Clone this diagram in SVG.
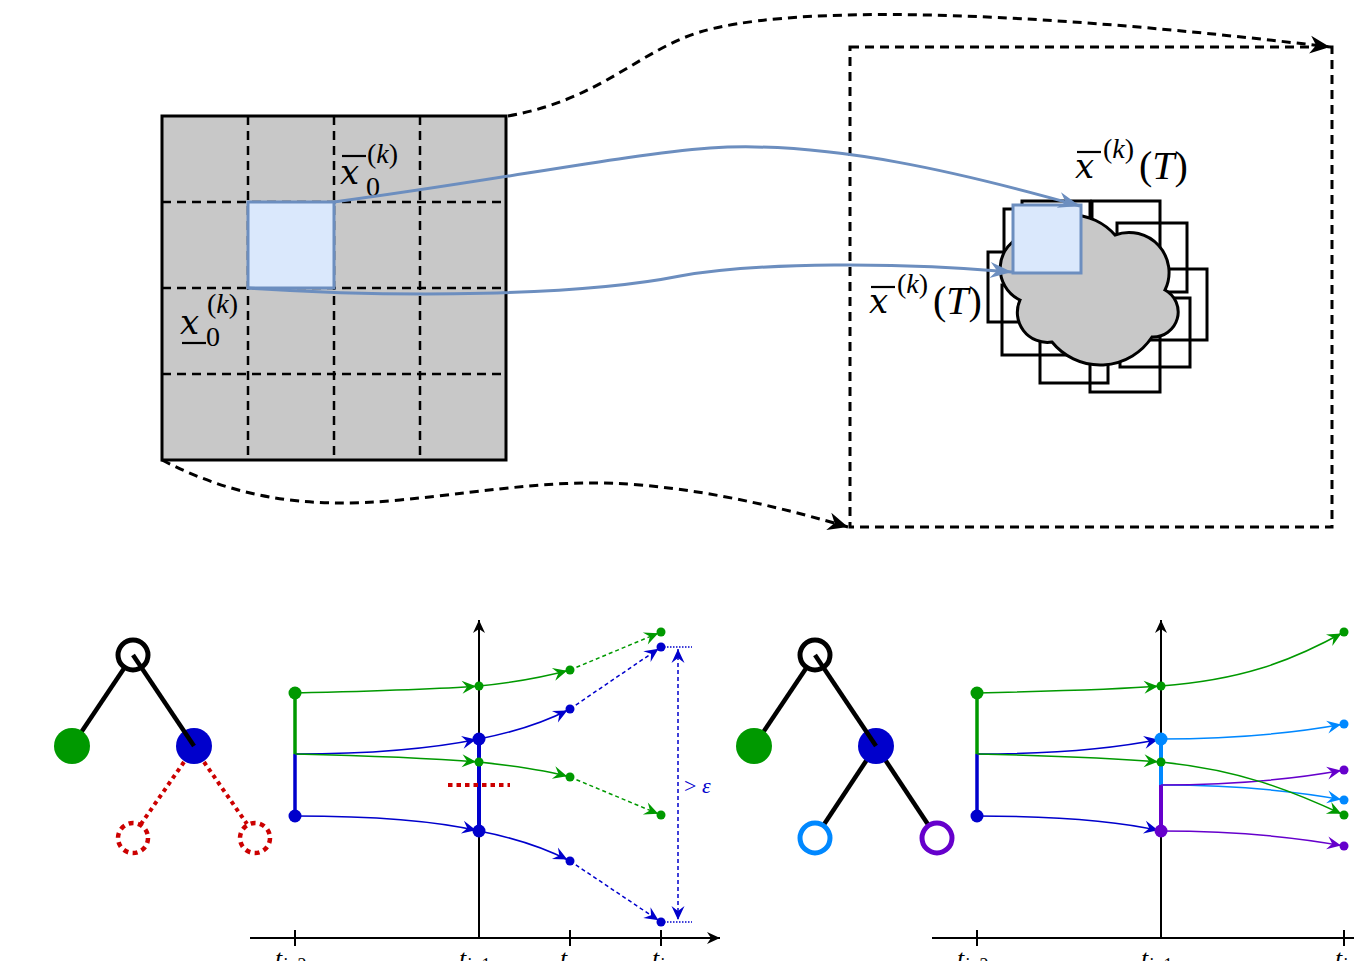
<svg xmlns="http://www.w3.org/2000/svg" width="1354" height="961" viewBox="0 0 1354 961">
<style>
.math{font-family:"Liberation Serif","DejaVu Serif",serif;font-style:italic;fill:#000}
.mx{font-family:"DejaVu Serif","Liberation Serif",serif;font-style:italic;fill:#000}
.up{font-style:normal}
.dash{fill:none;stroke:#000;stroke-width:3;stroke-dasharray:9 6}
.grid{fill:none;stroke:#000;stroke-width:2.5;stroke-dasharray:9 6}
.blk{stroke:#000;stroke-width:4.5;fill:none}
.sq{stroke:#000;stroke-width:3;fill:none}
.cell{fill:#dae8fc;stroke:#6c8ebf;stroke-width:3}
.flow{fill:none;stroke:#6c8ebf;stroke-width:3}
.axis{stroke:#000;stroke-width:2;fill:none}
.g{stroke:#009900;fill:none;stroke-width:1.5}
.b{stroke:#0000cc;fill:none;stroke-width:1.5}
.lb{stroke:#0088ff;fill:none;stroke-width:1.5}
.p{stroke:#6600cc;fill:none;stroke-width:1.5}
.gd{stroke-dasharray:4 3}
.fg{fill:#009900}.fb{fill:#0000cc}.flb{fill:#0088ff}.fp{fill:#6600cc}
</style>
<defs>
<marker id="mk" viewBox="-22 -11 24 22" refX="0" refY="0" markerWidth="24" markerHeight="22" orient="auto" markerUnits="userSpaceOnUse"><path d="M0,0 L-20,-9 L-14,0 L-20,9 Z" fill="#000"/></marker>
<marker id="mf" viewBox="-24 -10 26 20" refX="0" refY="0" markerWidth="26" markerHeight="20" orient="auto" markerUnits="userSpaceOnUse"><path d="M0,0 L-22,-8 L-15,0 L-22,8 Z" fill="#6c8ebf"/></marker>
<marker id="ag" viewBox="-16 -8 18 16" refX="3" refY="0" markerWidth="18" markerHeight="16" orient="auto" markerUnits="userSpaceOnUse"><path d="M0,0 L-14,-6.5 L-9,0 L-14,6.5 Z" fill="#009900"/></marker>
<marker id="ab" viewBox="-16 -8 18 16" refX="3" refY="0" markerWidth="18" markerHeight="16" orient="auto" markerUnits="userSpaceOnUse"><path d="M0,0 L-14,-6.5 L-9,0 L-14,6.5 Z" fill="#0000cc"/></marker>
<marker id="ab0" viewBox="-16 -8 18 16" refX="0" refY="0" markerWidth="18" markerHeight="16" orient="auto-start-reverse" markerUnits="userSpaceOnUse"><path d="M0,0 L-14,-6.5 L-9,0 L-14,6.5 Z" fill="#0000cc"/></marker>
<marker id="alb" viewBox="-16 -8 18 16" refX="3" refY="0" markerWidth="18" markerHeight="16" orient="auto" markerUnits="userSpaceOnUse"><path d="M0,0 L-14,-6.5 L-9,0 L-14,6.5 Z" fill="#0088ff"/></marker>
<marker id="ap" viewBox="-16 -8 18 16" refX="3" refY="0" markerWidth="18" markerHeight="16" orient="auto" markerUnits="userSpaceOnUse"><path d="M0,0 L-14,-6.5 L-9,0 L-14,6.5 Z" fill="#6600cc"/></marker>
<marker id="ax" viewBox="-14 -7 16 14" refX="0" refY="0" markerWidth="16" markerHeight="14" orient="auto" markerUnits="userSpaceOnUse"><path d="M0,0 L-13,-6 L-9,0 L-13,6 Z" fill="#000"/></marker>
</defs>

<g id="initial-domain">
<rect x="162" y="116" width="344" height="344" fill="#c8c8c8" stroke="#000" stroke-width="3"/>
<path class="grid" d="M248,116V460M334,116V460M420,116V460M162,202H506M162,288H506M162,374H506"/>
<rect class="cell" x="248" y="202" width="86" height="86"/>
</g>

<g id="label-x0-upper">
<line x1="342" y1="156" x2="366" y2="156" stroke="#000" stroke-width="2.2"/>
<text class="mx" x="340" y="184" font-size="34">x</text>
<text class="math" x="367" y="163" font-size="28"><tspan class="up">(</tspan>k<tspan class="up">)</tspan></text>
<text class="math up" x="366" y="196" font-size="28">0</text>
</g>
<g id="label-x0-lower">
<line x1="182" y1="343" x2="206" y2="343" stroke="#000" stroke-width="2.2"/>
<text class="mx" x="180" y="334" font-size="34">x</text>
<text class="math" x="207" y="313" font-size="28"><tspan class="up">(</tspan>k<tspan class="up">)</tspan></text>
<text class="math up" x="206" y="346" font-size="28">0</text>
</g>

<g id="reach-region">
<rect class="dash" x="850" y="47" width="482" height="480"/>
<g id="boxes">
<rect class="sq" x="1022" y="201" width="68" height="68"/>
<rect class="sq" x="1092" y="201" width="68" height="68"/>
<rect class="sq" x="1117" y="223" width="70" height="69"/>
<rect class="sq" x="1004" y="209" width="68" height="68"/>
<rect class="sq" x="988" y="252" width="68" height="70"/>
<rect class="sq" x="1002" y="285" width="68" height="70"/>
<rect class="sq" x="1040" y="315" width="68" height="68"/>
<rect class="sq" x="1090" y="323" width="70" height="69"/>
<rect class="sq" x="1139" y="269" width="68" height="71"/>
<rect class="sq" x="1120" y="298" width="70" height="69"/>
</g>
<path id="cloud" d="M1025,235 A60,60 0 0 1 1115,235 A40,40 0 0 1 1165,290 A25,25 0 0 1 1152,337 A62,62 0 0 1 1052,342 A30,30 0 0 1 1020,300 A35,35 0 0 1 1025,235 Z" fill="#c8c8c8" stroke="#000" stroke-width="3"/>
<rect class="cell" x="1013" y="205" width="68" height="68"/>
</g>

<g id="label-xT-upper">
<line x1="1077" y1="152" x2="1101" y2="152" stroke="#000" stroke-width="2.2"/>
<text class="mx" x="1075" y="178" font-size="34">x</text>
<text class="math" x="1103" y="158" font-size="28"><tspan class="up">(</tspan>k<tspan class="up">)</tspan></text>
<text class="math" x="1139" y="179" font-size="40"><tspan class="up">(</tspan>T<tspan class="up">)</tspan></text>
</g>
<g id="label-xT-lower">
<line x1="871" y1="287" x2="895" y2="287" stroke="#000" stroke-width="2.2"/>
<text class="mx" x="869" y="313" font-size="34">x</text>
<text class="math" x="897" y="293" font-size="28"><tspan class="up">(</tspan>k<tspan class="up">)</tspan></text>
<text class="math" x="933" y="314" font-size="40"><tspan class="up">(</tspan>T<tspan class="up">)</tspan></text>
</g>

<g id="connectors">
<path class="dash" d="M508,116 C600,100 640,50 700,32 C780,8 980,5 1330,47" marker-end="url(#mk)"/>
<path class="dash" d="M162,460 C230,495 300,510 400,500 C500,490 560,478 640,485 C720,492 790,510 848,527" marker-end="url(#mk)"/>
<path class="flow" d="M334,202 C500,180 620,155 710,148 C830,140 970,175 1080,206" marker-end="url(#mf)"/>
<path class="flow" d="M248,288 C400,298 580,296 680,276 C760,262 900,262 1012,272" marker-end="url(#mf)"/>
</g>

<g id="tree-1">
<line class="blk" x1="133" y1="655" x2="72" y2="746"/>
<circle cx="72" cy="746" r="18" fill="#009900"/>
<circle cx="194" cy="746" r="18" fill="#0000cc"/>
<circle cx="133" cy="655" r="15" fill="#fff" stroke="#000" stroke-width="5"/>
<line class="blk" x1="133" y1="655" x2="194" y2="746"/>
<path d="M184,762 L141,824 M204,762 L247,824" stroke="#cc0000" stroke-width="4" stroke-dasharray="4 4" fill="none"/>
<circle cx="133" cy="838" r="15" fill="none" stroke="#cc0000" stroke-width="4.5" stroke-dasharray="5 4.4"/>
<circle cx="255" cy="838" r="15" fill="none" stroke="#cc0000" stroke-width="4.5" stroke-dasharray="5 4.4"/>
</g>

<g id="chart-1">
<path class="axis" d="M250,938 H720" marker-end="url(#ax)"/>
<path class="axis" d="M479,938 V620" marker-end="url(#ax)"/>
<path class="axis" d="M295,930V946M570,930V946M661,930V946"/>
<g class="ticks">
<text class="math" x="275" y="967" font-size="26">t<tspan font-size="18" dy="4">i<tspan class="up">−2</tspan></tspan></text>
<text class="math" x="459" y="967" font-size="26">t<tspan font-size="18" dy="4">i<tspan class="up">−1</tspan></tspan></text>
<text class="math" x="560" y="967" font-size="26">t<tspan font-size="18" dy="8">m</tspan></text>
<text class="math" x="652" y="967" font-size="26">t<tspan font-size="18" dy="4">i</tspan></text>
</g>
<path d="M295,693V754" stroke="#009900" stroke-width="3.5"/>
<path d="M295,754V816" stroke="#0000cc" stroke-width="3.5"/>
<path d="M479,739V831" stroke="#0000cc" stroke-width="4"/>
<path class="g" d="M295,693 C380,691 440,689 479,686" marker-end="url(#ag)"/>
<path class="g" d="M479,686 C510,683 540,678 570,670" marker-end="url(#ag)"/>
<path class="g gd" d="M570,670 L661,632" marker-end="url(#ag)"/>
<path class="b" d="M295,754 C380,754 440,747 479,739" marker-end="url(#ab)"/>
<path class="b" d="M479,739 C510,733 545,722 570,709" marker-end="url(#ab)"/>
<path class="b gd" d="M570,709 L661,647" marker-end="url(#ab)"/>
<path class="g" d="M295,754 C380,756 440,759 479,762" marker-end="url(#ag)"/>
<path class="g" d="M479,762 C515,766 545,770 570,777" marker-end="url(#ag)"/>
<path class="g gd" d="M570,777 L661,815" marker-end="url(#ag)"/>
<path class="b" d="M295,816 C380,816 440,822 479,831" marker-end="url(#ab)"/>
<path class="b" d="M479,831 C510,837 545,848 570,861" marker-end="url(#ab)"/>
<path class="b gd" d="M570,861 L661,922" marker-end="url(#ab)"/>
<path d="M448,785 H510" stroke="#cc0000" stroke-width="4" stroke-dasharray="4.5 4"/>
<circle class="fg" cx="295" cy="693" r="6.5"/>
<circle class="fb" cx="295" cy="816" r="6.5"/>
<circle class="fg" cx="479" cy="686" r="4.5"/>
<circle class="fb" cx="479" cy="739" r="6.5"/>
<circle class="fg" cx="479" cy="762" r="4.5"/>
<circle class="fb" cx="479" cy="831" r="6.5"/>
<circle class="fg" cx="570" cy="670" r="4.5"/>
<circle class="fb" cx="570" cy="709" r="4.5"/>
<circle class="fg" cx="570" cy="777" r="4.5"/>
<circle class="fb" cx="570" cy="861" r="4.5"/>
<circle class="fg" cx="661" cy="632" r="4.5"/>
<circle class="fb" cx="661" cy="647" r="4.5"/>
<circle class="fg" cx="661" cy="815" r="4.5"/>
<circle class="fb" cx="661" cy="922" r="4.5"/>
<path d="M664,647H692M664,922H692" stroke="#0000cc" stroke-width="1.3" stroke-dasharray="1.5 1.5"/>
<path class="b" d="M678,649 V920" marker-start="url(#ab0)" marker-end="url(#ab0)" style="stroke-dasharray:4 3"/>
<text x="684" y="793" font-family="Liberation Serif, DejaVu Serif, serif" font-size="22" fill="#0000cc">&gt; <tspan font-style="italic">ε</tspan></text>
</g>

<g id="tree-2">
<line class="blk" x1="815" y1="655" x2="754" y2="746"/>
<line class="blk" x1="876" y1="746" x2="815" y2="838"/>
<line class="blk" x1="876" y1="746" x2="937" y2="838"/>
<circle cx="754" cy="746" r="18" fill="#009900"/>
<circle cx="876" cy="746" r="18" fill="#0000cc"/>
<circle cx="815" cy="655" r="15" fill="#fff" stroke="#000" stroke-width="5"/>
<line class="blk" x1="815" y1="655" x2="876" y2="746"/>
<circle cx="815" cy="838" r="15" fill="#fff" stroke="#0088ff" stroke-width="5"/>
<circle cx="937" cy="838" r="15" fill="#fff" stroke="#6600cc" stroke-width="5"/>
</g>

<g id="chart-2">
<path class="axis" d="M932,938 H1360"/>
<path class="axis" d="M1161,938 V620" marker-end="url(#ax)"/>
<path class="axis" d="M977,930V946M1344,930V946"/>
<g class="ticks">
<text class="math" x="957" y="967" font-size="26">t<tspan font-size="18" dy="4">i<tspan class="up">−2</tspan></tspan></text>
<text class="math" x="1141" y="967" font-size="26">t<tspan font-size="18" dy="4">i<tspan class="up">−1</tspan></tspan></text>
<text class="math" x="1335" y="967" font-size="26">t<tspan font-size="18" dy="4">i</tspan></text>
</g>
<path d="M977,693V754" stroke="#009900" stroke-width="3.5"/>
<path d="M977,754V816" stroke="#0000cc" stroke-width="3.5"/>
<path d="M1161,739V785" stroke="#0088ff" stroke-width="4"/>
<path d="M1161,785V831" stroke="#6600cc" stroke-width="4"/>
<path class="g" d="M977,693 C1062,691 1122,689 1161,686" marker-end="url(#ag)"/>
<path class="g" d="M1161,686 C1240,680 1290,662 1344,632" marker-end="url(#ag)"/>
<path class="b" d="M977,754 C1062,754 1122,747 1161,739" marker-end="url(#ab)"/>
<path class="g" d="M977,754 C1062,756 1122,759 1161,762" marker-end="url(#ag)"/>
<path class="b" d="M977,816 C1062,816 1122,822 1161,831" marker-end="url(#ab)"/>
<path class="lb" d="M1161,739 C1240,739 1300,732 1344,724" marker-end="url(#alb)"/>
<path class="lb" d="M1161,785 C1240,785 1300,792 1344,800" marker-end="url(#alb)"/>
<path class="p" d="M1161,785 C1240,785 1300,778 1344,770" marker-end="url(#ap)"/>
<path class="g" d="M1161,762 C1240,770 1290,790 1344,815" marker-end="url(#ag)"/>
<path class="p" d="M1161,831 C1240,831 1300,838 1344,846" marker-end="url(#ap)"/>
<circle class="fg" cx="977" cy="693" r="6.5"/>
<circle class="fb" cx="977" cy="816" r="6.5"/>
<circle class="fg" cx="1161" cy="686" r="4.5"/>
<circle class="flb" cx="1161" cy="739" r="6.5"/>
<circle class="fg" cx="1161" cy="762" r="4.5"/>
<circle class="fp" cx="1161" cy="831" r="6.5"/>
<circle class="fg" cx="1344" cy="632" r="4.5"/>
<circle class="flb" cx="1344" cy="724" r="4.5"/>
<circle class="fp" cx="1344" cy="770" r="4.5"/>
<circle class="flb" cx="1344" cy="800" r="4.5"/>
<circle class="fg" cx="1344" cy="815" r="4.5"/>
<circle class="fp" cx="1344" cy="846" r="4.5"/>
</g>
</svg>
